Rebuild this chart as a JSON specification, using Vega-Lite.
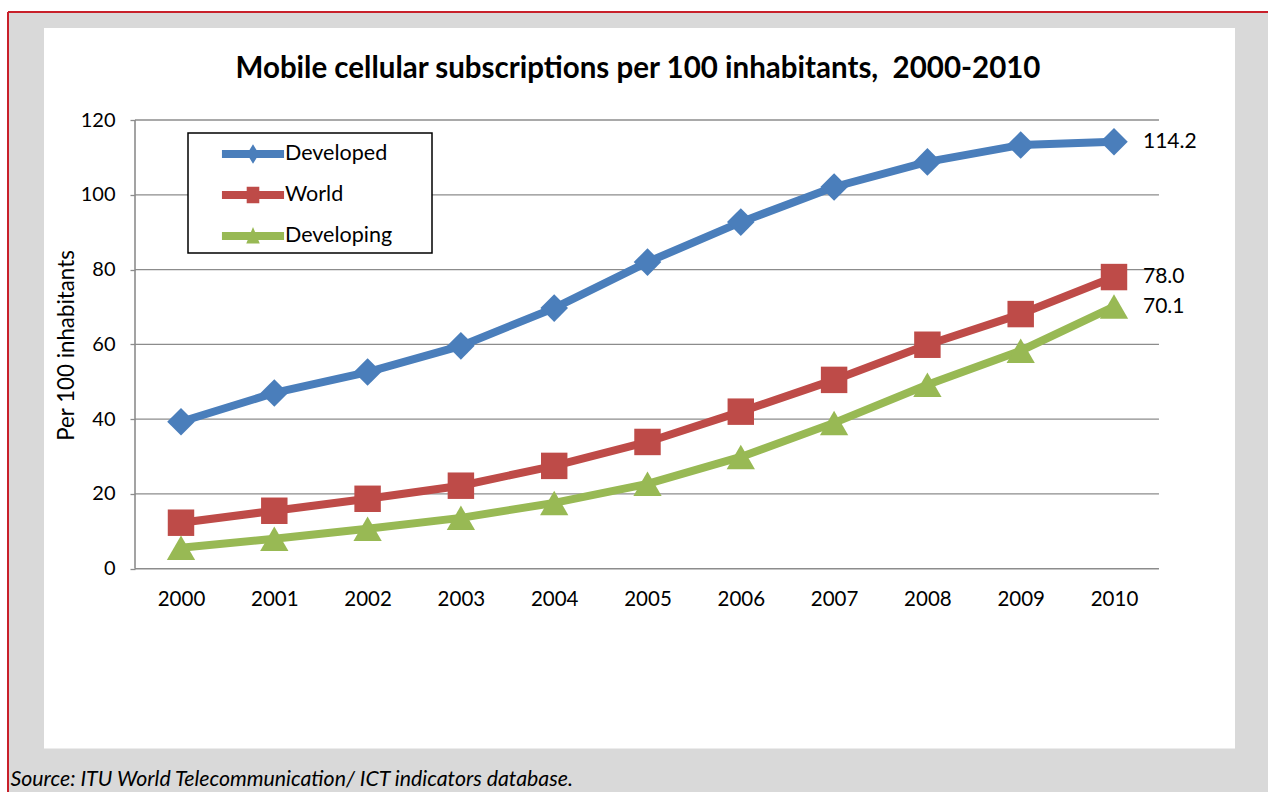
{
  "$schema": "https://vega.github.io/schema/vega-lite/v6.json",
  "autosize": "none",
  "width": 1260,
  "height": 780,
  "padding": {"left": 8, "top": 12, "right": 0, "bottom": 0},
  "background": "white",
  "config": {
    "font": "Lato",
    "view": {"fill": "#d9d9d9", "stroke": null},
    "legend": {"strokeWidth": 1.5}
  },
  "title": {
    "text": "Mobile cellular subscriptions per 100 inhabitants,\u00a0 2000-2010",
    "anchor": "middle",
    "frame": "group",
    "offset": -87,
    "baseline": "middle",
    "fontSize": 29.5,
    "fontWeight": "bold",
    "color": "black",
    "font": "Lato"
  },
  "data": {
    "values": [
      {"year": 2000, "series": "Developed", "value": 39.3},
      {"year": 2001, "series": "Developed", "value": 47.0},
      {"year": 2002, "series": "Developed", "value": 52.6},
      {"year": 2003, "series": "Developed", "value": 59.6},
      {"year": 2004, "series": "Developed", "value": 69.7},
      {"year": 2005, "series": "Developed", "value": 82.0},
      {"year": 2006, "series": "Developed", "value": 92.7},
      {"year": 2007, "series": "Developed", "value": 102.1},
      {"year": 2008, "series": "Developed", "value": 108.8},
      {"year": 2009, "series": "Developed", "value": 113.3},
      {"year": 2010, "series": "Developed", "value": 114.2},
      {"year": 2000, "series": "World", "value": 12.3},
      {"year": 2001, "series": "World", "value": 15.5},
      {"year": 2002, "series": "World", "value": 18.7},
      {"year": 2003, "series": "World", "value": 22.2},
      {"year": 2004, "series": "World", "value": 27.5},
      {"year": 2005, "series": "World", "value": 33.9},
      {"year": 2006, "series": "World", "value": 42.0},
      {"year": 2007, "series": "World", "value": 50.5},
      {"year": 2008, "series": "World", "value": 59.9},
      {"year": 2009, "series": "World", "value": 68.1},
      {"year": 2010, "series": "World", "value": 78.0},
      {"year": 2000, "series": "Developing", "value": 5.6},
      {"year": 2001, "series": "Developing", "value": 8.0},
      {"year": 2002, "series": "Developing", "value": 10.7},
      {"year": 2003, "series": "Developing", "value": 13.6},
      {"year": 2004, "series": "Developing", "value": 17.6},
      {"year": 2005, "series": "Developing", "value": 22.7},
      {"year": 2006, "series": "Developing", "value": 29.9},
      {"year": 2007, "series": "Developing", "value": 39.0},
      {"year": 2008, "series": "Developing", "value": 49.2},
      {"year": 2009, "series": "Developing", "value": 58.3},
      {"year": 2010, "series": "Developing", "value": 70.1}
    ]
  },
  "layer": [
    {
      "data": {"values": [{}]},
      "mark": {"type": "rect", "fill": "white"},
      "encoding": {
        "x": {"datum": 1998.5316, "type": "quantitative"},
        "x2": {"datum": 2011.297},
        "y": {"datum": -48.1, "type": "quantitative"},
        "y2": {"datum": 144.58}
      }
    },
    {
      "data": {"values": [{}]},
      "mark": {"type": "rule", "color": "#c8202a", "strokeWidth": 2},
      "encoding": {
        "x": {"datum": 1998.1458, "type": "quantitative"},
        "y": {"datum": -59.72, "type": "quantitative"},
        "y2": {"datum": 148.89}
      }
    },
    {
      "data": {"values": [{}]},
      "mark": {"type": "rule", "color": "#c8202a", "strokeWidth": 2},
      "encoding": {
        "x": {"datum": 1998.1458, "type": "quantitative"},
        "x2": {"datum": 2011.6506},
        "y": {"datum": 148.89, "type": "quantitative"}
      }
    },
    {
      "data": {"values": [{"v": 20}, {"v": 40}, {"v": 60}, {"v": 80}, {"v": 100}, {"v": 120}]},
      "mark": {"type": "rule", "color": "#8c8c8c", "strokeWidth": 1.3},
      "encoding": {
        "x": {"datum": 1999.507, "type": "quantitative"},
        "x2": {"datum": 2010.482},
        "y": {"field": "v", "type": "quantitative"}
      }
    },
    {
      "data": {"values": [{}]},
      "mark": {"type": "rule", "color": "#8c8c8c", "strokeWidth": 1.6},
      "encoding": {
        "x": {"datum": 1999.507, "type": "quantitative"},
        "x2": {"datum": 2010.482},
        "y": {"datum": 0, "type": "quantitative"}
      }
    },
    {
      "data": {"values": [{}]},
      "mark": {"type": "rule", "color": "#8c8c8c", "strokeWidth": 1.6},
      "encoding": {
        "x": {"datum": 1999.507, "type": "quantitative"},
        "y": {"datum": 0, "type": "quantitative"},
        "y2": {"datum": 120}
      }
    },
    {
      "mark": {"type": "line", "strokeWidth": 8},
      "encoding": {
        "x": {
          "field": "year", "type": "quantitative",
          "scale": {"domain": [1998.1458, 2011.6506], "nice": false, "zero": false},
          "axis": {
            "zindex": 1,
            "values": [2000, 2001, 2002, 2003, 2004, 2005, 2006, 2007, 2008, 2009, 2010],
            "format": "d", "domain": false, "ticks": false, "grid": false,
            "labelFontSize": 20.5, "labelColor": "black", "labelPadding": 21,
            "labelOverlap": false, "labelFlush": false,
            "offset": -223.3,
            "title": "Source: ITU World Telecommunication/ ICT indicators database.",
            "titleFontStyle": "italic", "titleFontWeight": "normal", "titleFontSize": 21.3,
            "titleColor": "black", "titleX": 2, "titleY": 211, "titleAlign": "left",
            "titleAnchor": "start", "titleBaseline": "middle"
          }
        },
        "y": {
          "field": "value", "type": "quantitative",
          "scale": {"domain": [-59.72, 148.89], "nice": false, "zero": false},
          "axis": {
            "zindex": 1,
            "values": [0, 20, 40, 60, 80, 100, 120],
            "domain": false, "grid": false, "ticks": true, "tickSize": 5,
            "tickColor": "#8c8c8c", "tickWidth": 1.3,
            "labelFontSize": 20, "labelColor": "black", "labelPadding": 15,
            "labelOverlap": false, "labelFlush": false,
            "offset": -127,
            "title": "Per 100 inhabitants",
            "titleFontSize": 22.3, "titleFontWeight": "normal", "titleColor": "black",
            "titleX": -69, "titleY": 333, "titleAngle": -90,
            "titleAlign": "center", "titleBaseline": "middle"
          }
        },
        "color": {
          "field": "series", "type": "nominal",
          "scale": {"domain": ["Developed", "World", "Developing"], "range": ["#4a7ebb", "#be4b48", "#98b954"]},
          "legend": {
            "title": null,
            "orient": "none", "legendX": 180, "legendY": 121,
            "direction": "vertical",
            "fillColor": "white", "strokeColor": "black",
            "padding": 6,
            "symbolSize": 900, "symbolOffset": 44, "labelOffset": 17, "rowPadding": 15,
            "labelFontSize": 21.5, "labelColor": "black",
            "labelExpr": "datum.label + '\u00a0\u00a0\u00a0\u00a0\u00a0\u00a0\u200b'",
            "encode": {
              "symbols": {
                "update": {
                  "shape": {"signal": "datum.value === 'Developed' ? 'M-2.07,-0.27H2.07V0.27H-2.07Z M0,-0.65L0.4,0L0,0.65L-0.4,0Z' : datum.value === 'World' ? 'M-2.07,-0.27H2.07V0.27H-2.07Z M-0.42,-0.55H0.42V0.55H-0.42Z' : 'M-2.07,-0.27H2.07V0.27H-2.07Z M0,-0.6L0.45,0.5H-0.45Z'"},
                  "fill": {"signal": "scale('color', datum.value)"},
                  "stroke": {"value": "transparent"},
                  "strokeWidth": {"value": 0},
                  "opacity": {"value": 1},
                  "fillOpacity": {"value": 1}
                }
              }
            }
          }
        }
      }
    },
    {
      "transform": [{"filter": "datum.series === 'Developed'"}],
      "mark": {"type": "point", "filled": true, "opacity": 1, "size": 760, "shape": "diamond"},
      "encoding": {
        "x": {"field": "year", "type": "quantitative"},
        "y": {"field": "value", "type": "quantitative"},
        "color": {"field": "series", "type": "nominal", "legend": null}
      }
    },
    {
      "transform": [{"filter": "datum.series === 'World'"}],
      "mark": {"type": "point", "filled": true, "opacity": 1, "size": 700, "shape": "square"},
      "encoding": {
        "x": {"field": "year", "type": "quantitative"},
        "y": {"field": "value", "type": "quantitative"},
        "color": {"field": "series", "type": "nominal", "legend": null}
      }
    },
    {
      "transform": [{"filter": "datum.series === 'Developing'"}],
      "mark": {"type": "point", "filled": true, "opacity": 1, "size": 800, "shape": "triangle-up"},
      "encoding": {
        "x": {"field": "year", "type": "quantitative"},
        "y": {"field": "value", "type": "quantitative"},
        "color": {"field": "series", "type": "nominal", "legend": null}
      }
    },
    {
      "transform": [{"filter": "datum.year === 2010"}],
      "mark": {"type": "text", "align": "left", "baseline": "middle", "dx": 29, "fontSize": 21, "color": "black"},
      "encoding": {
        "x": {"field": "year", "type": "quantitative"},
        "y": {"field": "value", "type": "quantitative"},
        "text": {"field": "value", "type": "quantitative", "format": ".1f"}
      }
    }
  ]
}
